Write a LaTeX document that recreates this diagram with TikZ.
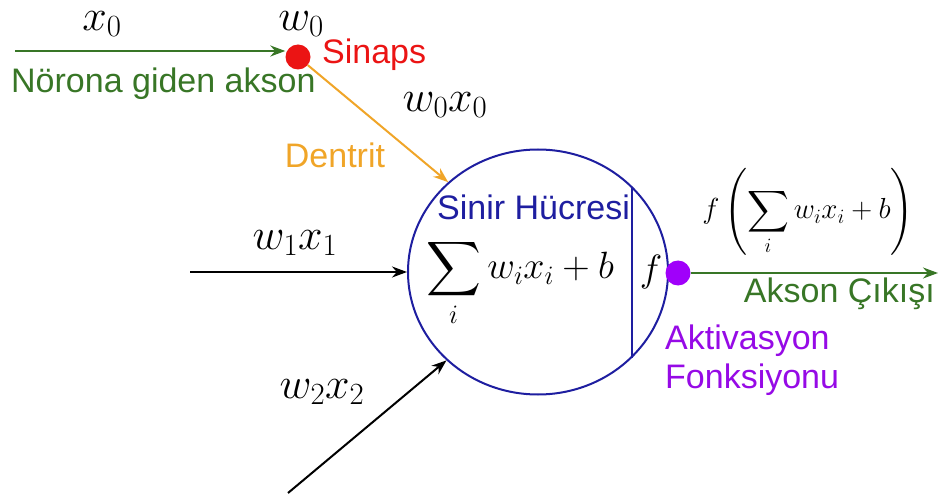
\RequirePackage{fix-cm}
\documentclass[tikz,border=0pt]{standalone}
\usepackage{amsmath}
\DeclareFontShape{OMX}{cmex}{m}{n}{<->cmex10}{}
\usepackage{fontspec}
\newfontfamily\labelsans{Liberation Sans}
\usetikzlibrary{arrows.meta,shapes.geometric}
\definecolor{axgreen}{RGB}{56,118,38}
\definecolor{synred}{RGB}{235,20,20}
\definecolor{dorange}{RGB}{240,165,40}
\definecolor{cellblue}{RGB}{30,30,160}
\definecolor{actpurple}{RGB}{150,10,230}
\definecolor{dotpurple}{RGB}{160,0,250}
\tikzset{
  mlabel/.style={inner sep=0pt, font=\fontsize{44}{52}\selectfont},
  slabel/.style={inner sep=0pt, font=\labelsans\fontsize{34}{39}\selectfont},
  conn/.style={line width=2pt, -{Stealth[length=15pt,width=11pt]}},
  dot/.style={circle, inner sep=0pt, minimum size=25pt},
}
\begin{document}
\begin{tikzpicture}[x=1pt,y=-1pt]
\useasboundingbox (0,0) rectangle (940,497);
% cell
\node[ellipse, draw=cellblue, line width=2pt, minimum width=260pt, minimum height=245pt, inner sep=0pt] (cell) at (538,272) {};
\coordinate (vtop) at (632,187);
\coordinate (vbot) at (632,358);
\draw[cellblue, line width=2pt] (vtop) -- (vbot);
\node[slabel, text=cellblue, anchor=base west] (cellname) at (437,220) {Sinir Hücresi};
\node[mlabel, font=\fontsize{38}{44}\selectfont, anchor=west] (sum) at (426,283) {$\displaystyle\sum_i w_ix_i+b$};
\node[mlabel, font=\fontsize{38}{44}\selectfont] (f) at (651,272) {$f$};
% synapse
\node[dot, fill=synred] (syn) at (298,57) {};
\coordinate (in0) at (15,51);
\draw[conn, axgreen] (in0) -- (in0 -| syn.west);
\node[mlabel] (x0) at (102,24) {$x_0$};
\node[mlabel] (w0) at (301,24) {$w_0$};
\node[slabel, text=synred, anchor=west] (synname) at (322,55) {Sinaps};
\node[slabel, text=axgreen, anchor=base west] (axin) at (11,93) {Nörona giden akson};
\draw[conn, dorange] (syn) -- (cell.135);
\node[mlabel] (w0x0) at (445,105) {$w_0x_0$};
\node[slabel, text=dorange] (dent) at (335,155) {Dentrit};
% other inputs
\coordinate (in1) at (190,272);
\draw[conn, black] (in1) -- (cell.west);
\node[mlabel] (w1x1) at (295,243) {$w_1x_1$};
\coordinate (in2) at (288,493);
\draw[conn, black] (in2) -- (cell.224);
\node[mlabel] (w2x2) at (322,392) {$w_2x_2$};
% output
\node[dot, fill=dotpurple] (act) at (678,273) {};
\coordinate (out) at (938,273);
\draw[conn, axgreen] (act) -- (out);
\node[slabel, text=axgreen, anchor=base east] (axout) at (935,302) {Akson Çıkışı};
\node[slabel, text=actpurple, anchor=north west, align=left] (actname) at (665,325) {Aktivasyon\\Fonksiyonu};
\node[mlabel, font=\fontsize{29}{34}\selectfont] (outf) at (808,212) {$f\left(\displaystyle\sum_i w_ix_i+b\right)$};
\end{tikzpicture}
\end{document}
